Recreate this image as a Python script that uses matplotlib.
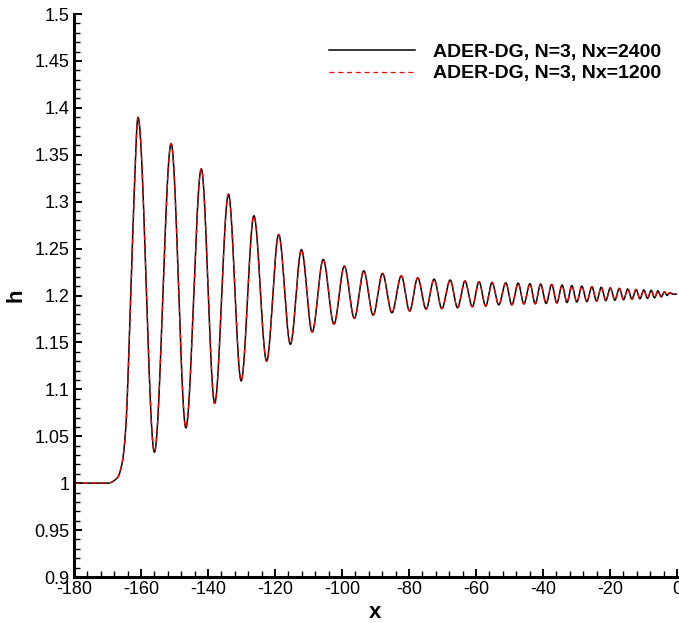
import numpy as np
from matplotlib import pyplot as plt
from matplotlib.ticker import MultipleLocator

# key points: front of the bore, then alternating peaks / troughs
x_pts = [-180.0, -170.0, -167.0, -165.6, -164.6, -163.1, -162.1,
         -160.9, -156.0, -151.0, -146.6, -142.0, -138.0, -133.9, -130.1,
         -126.3, -122.5, -118.9, -115.4, -112.1, -108.9, -105.6, -102.4,
         -99.3, -96.3, -93.5, -90.7, -87.9, -85.1, -82.3, -79.8,
         -77.4, -74.9, -72.5, -70.2, -67.7, -65.5, -63.3, -61.1,
         -59.1, -57.1, -55.2, -53.2, -51.1, -49.3, -47.4, -45.7,
         -43.9, -42.3, -40.7, -39.05, -37.4, -35.85, -34.3, -32.85,
         -31.4, -29.9, -28.4, -26.9, -25.4, -24.0, -22.6, -21.25,
         -19.9, -18.55, -17.2, -15.95, -14.7, -13.45, -12.2, -11.05,
         -9.9, -8.8, -7.7, -6.7, -5.7, -4.7, -3.7, -2.95,
         -2.2, -1.2, 0.0]
h_pts = [1.0, 1.0, 1.006, 1.022, 1.056, 1.195, 1.302,
         1.390, 1.033, 1.362, 1.059, 1.335, 1.085, 1.308, 1.109,
         1.285, 1.130, 1.265, 1.148, 1.249, 1.161, 1.2385, 1.1695,
         1.2313, 1.1756, 1.2264, 1.179, 1.2236, 1.1816, 1.221, 1.1834,
         1.2189, 1.1855, 1.2175, 1.186, 1.2165, 1.187, 1.2155, 1.188,
         1.2147, 1.1887, 1.214, 1.190, 1.2136, 1.190, 1.2132, 1.191,
         1.2126, 1.1912, 1.2122, 1.1915, 1.2118, 1.192, 1.2112, 1.1925,
         1.2106, 1.193, 1.2100, 1.1935, 1.2094, 1.194, 1.2088, 1.1945,
         1.2082, 1.195, 1.2076, 1.1955, 1.2070, 1.196, 1.2065, 1.1965,
         1.2060, 1.197, 1.2055, 1.1975, 1.2050, 1.1985, 1.2040, 1.200,
         1.2030, 1.2015, 1.2015]

labels = ['ADER-DG, N=3, Nx=2400', 'ADER-DG, N=3, Nx=1200']


def pchip(xk, yk, xs):
    xk = np.asarray(xk)
    yk = np.asarray(yk)
    hk = np.diff(xk)
    dk = np.diff(yk) / hk
    m = np.zeros(len(xk))
    for k in range(1, len(xk) - 1):
        if dk[k - 1] * dk[k] > 0:
            w1 = 2 * hk[k] + hk[k - 1]
            w2 = hk[k] + 2 * hk[k - 1]
            m[k] = (w1 + w2) / (w1 / dk[k - 1] + w2 / dk[k])
    idx = np.clip(np.searchsorted(xk, xs) - 1, 0, len(xk) - 2)
    t = (xs - xk[idx]) / hk[idx]
    h00 = 2 * t**3 - 3 * t**2 + 1
    h10 = t**3 - 2 * t**2 + t
    h01 = -2 * t**3 + 3 * t**2
    h11 = t**3 - t**2
    return (h00 * yk[idx] + h10 * hk[idx] * m[idx]
            + h01 * yk[idx + 1] + h11 * hk[idx] * m[idx + 1])


x_fine = np.linspace(-180, 0, 4000)
x_coarse = np.linspace(-180, 0, 2000)
h_fine = pchip(x_pts, h_pts, x_fine)
h_coarse = pchip(x_pts, h_pts, x_coarse)

plt.rcParams['font.family'] = ['Liberation Sans', 'DejaVu Sans']
plt.rcParams['axes.unicode_minus'] = False

fig = plt.figure(figsize=(6.79, 6.23), dpi=100)
ax = fig.add_axes([0.109, 0.0738, 0.888, 0.9037])

ax.plot(x_fine, h_fine, color='black', linewidth=1.1, label=labels[0])
ax.plot(x_coarse, h_coarse, color='red', linewidth=0.9, linestyle=(0, (4, 3)),
        label=labels[1])

ax.set_xlim(-180, 0)
ax.set_ylim(0.9, 1.5)
ax.xaxis.set_major_locator(MultipleLocator(20))
ax.xaxis.set_minor_locator(MultipleLocator(4))
ax.yaxis.set_major_locator(MultipleLocator(0.05))
ax.yaxis.set_minor_locator(MultipleLocator(0.01))
ax.yaxis.set_major_formatter(plt.FuncFormatter(lambda v, p: ('%.2f' % v).rstrip('0').rstrip('.')))

ax.spines['top'].set_visible(False)
ax.spines['right'].set_visible(False)
ax.spines['left'].set_linewidth(2.2)
ax.spines['bottom'].set_linewidth(2.2)
ax.tick_params(which='major', direction='in', length=6, width=1.4, labelsize=13, pad=3)
ax.tick_params(which='minor', direction='in', length=4, width=1.0)

ax.set_xlabel('x', fontsize=16, fontweight='bold', labelpad=3)
ax.set_ylabel('h', fontsize=16, fontweight='bold', labelpad=6)

leg = ax.legend(loc='upper right', bbox_to_anchor=(1.002, 0.979), frameon=False,
                handlelength=4.4, handletextpad=0.9, labelspacing=0.2,
                prop={'size': 14, 'weight': 'bold'})

fig.savefig('out.png', dpi=100)
